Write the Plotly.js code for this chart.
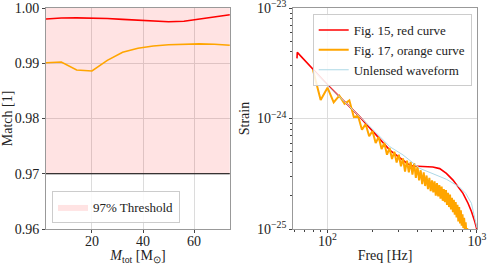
<!DOCTYPE html>
<html><head><meta charset="utf-8">
<script src="https://cdn.plot.ly/plotly-3.0.1.min.js"></script>
<style>html,body{margin:0;padding:0;background:#fff}#chart{width:491px;height:265px}</style>
</head><body><div id="chart"></div>
<script>
// ---- Left panel data ----
const massTotal = [2, 8, 14, 20, 26, 32, 38, 44, 50, 56, 62, 68, 74];
const matchRed = [0.9980, 0.9982, 0.99822, 0.9982, 0.9981, 0.99795, 0.9978, 0.99765, 0.99752, 0.9976, 0.9980, 0.9984, 0.99879];
const matchOrange = [0.9901, 0.99023, 0.98878, 0.9886, 0.99053, 0.9920, 0.99272, 0.99312, 0.99335, 0.99348, 0.9935, 0.99345, 0.99325];
const thresholdLow = 0.97;
const thresholdHigh = 1.00;
const leftXTicks = [20, 40, 60];
const leftYTicks = [0.96, 0.97, 0.98, 0.99, 1.00];

// ---- Right panel data ----
const freqRed = [62.5, 62.8, 100, 164, 261, 290, 320, 345, 371, 414, 460, 506, 563, 624, 691, 747, 806, 871, 918, 966, 1000];
const strainRed = [3.5e-24, 3.97e-24, 2.02e-24, 1.04e-24, 5.18e-25, 4.65e-25, 4.2e-25, 3.88e-25, 3.72e-25, 3.68e-25, 3.67e-25, 3.64e-25, 3.52e-25, 3.19e-25, 2.77e-25, 2.41e-25, 2.10e-25, 1.71e-25, 1.44e-25, 1.17e-25, 9.8e-26];

const freqUnlensed = [80, 100, 130, 164, 210, 261, 320, 414, 506, 624, 760, 840, 918, 966, 1000];
const strainUnlensed = [2.75e-24, 1.99e-24, 1.42e-24, 1.05e-24, 7.5e-25, 5.56e-25, 4.68e-25, 3.54e-25, 3.19e-25, 2.82e-25, 2.41e-25, 2.10e-25, 1.71e-25, 1.29e-25, 1.02e-25];

const freqOrange = [80, 90, 100, 110, 120, 130, 140, 150, 160, 170, 180, 190, 200, 210, 220, 230, 240, 250, 260, 270,
  280, 290, 300, 310, 320, 330, 340, 350, 360, 370, 380, 390, 400, 410, 420, 430, 440, 450, 460, 470,
  480, 490, 500, 510, 520, 530, 540, 550, 560, 570, 580, 590, 600, 610, 620, 630, 640, 650, 660, 670,
  680, 690, 700, 710, 720, 730, 740, 750, 760, 770, 780, 790, 800, 810, 820, 830, 840, 850, 860, 870, 880];
const strainOrange = [2.75e-24, 1.47e-24, 1.90e-24, 1.40e-24, 1.61e-24, 1.36e-24, 1.46e-24, 1.03e-24, 1.06e-24, 7.9e-25,
  8.9e-25, 6.9e-25, 7.7e-25, 6.0e-25, 6.8e-25, 5.3e-25, 6.0e-25, 4.7e-25, 5.4e-25, 4.3e-25,
  5.0e-25, 4.0e-25, 4.7e-25, 3.7e-25, 4.35e-25, 3.3e-25, 4.15e-25, 3.25e-25, 4.05e-25, 3.1e-25,
  3.95e-25, 2.9e-25, 3.7e-25, 2.75e-25, 3.4e-25, 2.55e-25, 3.25e-25, 2.45e-25, 3.05e-25, 2.3e-25,
  2.9e-25, 2.2e-25, 2.75e-25, 2.15e-25, 2.7e-25, 2.0e-25, 2.6e-25, 1.97e-25, 2.5e-25, 1.88e-25,
  2.42e-25, 1.8e-25, 2.3e-25, 1.75e-25, 2.25e-25, 1.65e-25, 2.12e-25, 1.58e-25, 2.05e-25, 1.5e-25,
  1.92e-25, 1.42e-25, 1.84e-25, 1.35e-25, 1.75e-25, 1.27e-25, 1.66e-25, 1.17e-25, 1.58e-25, 1.12e-25,
  1.48e-25, 1.07e-25, 1.36e-25, 1.02e-25, 1.26e-25, 9.8e-26, 1.15e-25, 9.1e-26, 1.02e-25, 8.3e-26, 8.9e-26];

const rightXTicks = [100, 1000];
const rightXTickText = ['10<sup>2</sup>', '10<sup>3</sup>'];
const rightYTicks = [1e-25, 1e-24, 1e-23];
const rightYTickText = ['10<sup>−25</sup>', '10<sup>−24</sup>', '10<sup>−23</sup>'];
const rightXMinor = [60, 70, 80, 90, 200, 300, 400, 500, 600, 700, 800, 900];
const rightYMinor = [2e-25, 3e-25, 4e-25, 5e-25, 6e-25, 7e-25, 8e-25, 9e-25, 2e-24, 3e-24, 4e-24, 5e-24, 6e-24, 7e-24, 8e-24, 9e-24];

const xL = [massTotal[0], massTotal[massTotal.length - 1]];
const FONT = 'Liberation Serif, serif';

// page geometry (px)
const W = 491, H = 265;
const mL = 46, mR = W - 477.3, mT = 8, mB = H - 229;
const plotW = W - mL - mR;

const traces = [
  {x: [xL[0], xL[1], xL[1], xL[0]], y: [thresholdLow, thresholdLow, thresholdHigh, thresholdHigh],
   fill: 'toself', fillcolor: 'rgba(255,0,0,0.11)', line: {width: 0}, mode: 'lines',
   name: '97% Threshold', legend: 'legend2', hoverinfo: 'skip', xaxis: 'x', yaxis: 'y'},
  {x: xL, y: [thresholdLow, thresholdLow], mode: 'lines', line: {color: '#000', width: 1},
   showlegend: false, xaxis: 'x', yaxis: 'y'},
  {x: massTotal, y: matchRed, mode: 'lines', line: {color: '#ff0000', width: 1.6}, showlegend: false, xaxis: 'x', yaxis: 'y'},
  {x: massTotal, y: matchOrange, mode: 'lines', line: {color: '#ffa500', width: 1.6}, showlegend: false, xaxis: 'x', yaxis: 'y'},

  {x: freqRed, y: strainRed, mode: 'lines', line: {color: '#ff0000', width: 1.6}, name: 'Fig. 15, red curve', xaxis: 'x2', yaxis: 'y2'},
  {x: freqOrange, y: strainOrange, mode: 'lines', line: {color: '#ffa500', width: 2}, name: 'Fig. 17, orange curve', xaxis: 'x2', yaxis: 'y2'},
  {x: freqUnlensed, y: strainUnlensed, mode: 'lines', line: {color: '#add8e6', width: 1}, name: 'Unlensed waveform', xaxis: 'x2', yaxis: 'y2'}
];

const axisCommon = {showline: true, mirror: true, linecolor: '#999', linewidth: 1, ticks: 'outside', ticklen: 3,
  tickcolor: '#444', showgrid: true, gridcolor: '#dcdcdc', gridwidth: 1, zeroline: false,
  ticklabeloverflow: 'allow', tickfont: {family: FONT, size: 14, color: '#222'}};

const layout = {
  width: W, height: H,
  margin: {l: mL, r: mR, t: mT, b: mB},
  paper_bgcolor: '#fff', plot_bgcolor: '#fff',
  font: {family: FONT, size: 14, color: '#222'},
  xaxis: Object.assign({}, axisCommon, {domain: [0, (230 - mL) / plotW], range: xL, tickvals: leftXTicks, anchor: 'y',
    ticklabelstandoff: -4,
    title: {text: '<i>M</i><sub>tot</sub> [M<sub>⊙</sub>]', standoff: 2, font: {family: FONT, size: 14}}}),
  yaxis: Object.assign({}, axisCommon, {domain: [0, 1], range: [0.96, 1.00], tickvals: leftYTicks, tickformat: '.2f', anchor: 'x',
    title: {text: 'Match [1]', standoff: 4, font: {family: FONT, size: 14}}}),
  xaxis2: Object.assign({}, axisCommon, {domain: [(293.3 - mL) / plotW, 1], type: 'log', range: [Math.log10(58.9), 3], anchor: 'y2',
    tickvals: rightXTicks, ticktext: rightXTickText, ticklabelstandoff: -4,
    minor: {tickvals: rightXMinor, ticks: 'outside', ticklen: 2, tickcolor: '#444', showgrid: false},
    title: {text: 'Freq [Hz]', standoff: 2, font: {family: FONT, size: 14}}}),
  yaxis2: Object.assign({}, axisCommon, {domain: [0, 1], type: 'log', range: [-25, -23], anchor: 'x2',
    tickvals: rightYTicks, ticktext: rightYTickText,
    minor: {tickvals: rightYMinor, ticks: 'outside', ticklen: 2, tickcolor: '#444', showgrid: false},
    title: {text: 'Strain', standoff: 4, font: {family: FONT, size: 14}}}),
  legend: {x: 1 - (477.3 - 472) / plotW, xanchor: 'right', y: 1 - (14 - mT) / (H - mT - mB), yanchor: 'top', bgcolor: 'rgba(255,255,255,0.85)',
    bordercolor: '#ccc', borderwidth: 1, font: {family: FONT, size: 13}, tracegroupgap: 0, traceorder: 'normal'},
  legend2: {x: (52 - mL) / plotW, xanchor: 'left', y: (229 - 223) / (H - mT - mB), yanchor: 'bottom', bgcolor: 'rgba(255,255,255,0.85)',
    bordercolor: '#ccc', borderwidth: 1, font: {family: FONT, size: 13}}
};

Plotly.newPlot('chart', traces, layout, {staticPlot: true, displayModeBar: false});
</script>
</body></html>
